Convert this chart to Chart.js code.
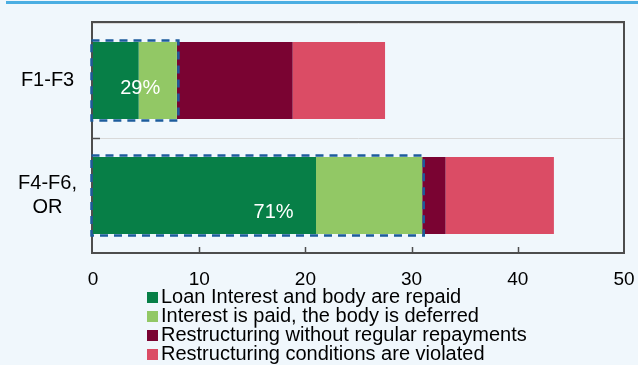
<!DOCTYPE html>
<html>
<head>
<meta charset="utf-8">
<script src="https://cdn.jsdelivr.net/npm/chart.js@4.4.1/dist/chart.umd.min.js"></script>
<style>
    html, body { margin: 0; padding: 0; background: #F0F7FC; }
    #wrap { position: relative; width: 638px; height: 365px; overflow: hidden; }
    #topline { position: absolute; left: 6px; top: 1px; width: 632px; height: 3px; background: #4BAEE2; }
    #chartBox { position: absolute; left: 0; top: 0; width: 638px; height: 365px; }
    #legend { position: absolute; left: 147px; top: 287px; font: 20px 'Liberation Sans', Arial, sans-serif; line-height: 19px; color: #000; }
    #legend div { white-space: nowrap; height: 19px; }
    #legend span.box { display: inline-block; width: 11px; height: 11px; margin-right: 3px; vertical-align: 0px; }
</style>
</head>
<body>
<div id="wrap">
    <div id="topline"></div>
    <div id="chartBox"><canvas id="myChart"></canvas></div>
    <div id="legend"></div>
</div>
<script>
const categories = [['F1-F3'], ['F4-F6,', 'OR']];
const seriesNames = [
    'Loan Interest and body are repaid',
    'Interest is paid, the body is deferred',
    'Restructuring without regular repayments',
    'Restructuring conditions are violated'
];
const repaid = [4.3, 21.0];
const deferred = [3.6, 10.0];
const noRepayments = [10.9, 2.2];
const violated = [8.7, 10.2];
const xTicks = [0, 10, 20, 30, 40, 50];

const colors = ['#077F47', '#92C865', '#7A0332', '#DB4C65'];
const seriesValues = [repaid, deferred, noRepayments, violated];

// legend as html
const legendEl = document.getElementById('legend');
seriesNames.forEach(function (name, i) {
    const row = document.createElement('div');
    const box = document.createElement('span');
    box.className = 'box';
    box.style.background = colors[i];
    row.appendChild(box);
    row.appendChild(document.createTextNode(name));
    legendEl.appendChild(row);
});

// where the share labels sit (x in data units, dy in px from bar centre)
const pctLabelPos = [{ x: 4.45, dy: 8 }, { x: 17.0, dy: 16.5 }];

const framePlugin = {
    id: 'frame',
    afterDraw: function (chart) {
        const ctx = chart.ctx;
        const a = chart.chartArea;
        const xs = chart.scales.x;
        const ys = chart.scales.y;
        ctx.save();
        ctx.strokeStyle = '#4D4D4D';
        ctx.lineWidth = 2;
        ctx.strokeRect(a.left - 1, a.top - 1, a.right - a.left + 1, a.bottom - a.top + 1);
        // inward ticks on x
        ctx.beginPath();
        xTicks.slice(1, -1).forEach(function (v) {
            const px = Math.round(xs.getPixelForValue(v)) + 0.5;
            ctx.moveTo(px, a.bottom);
            ctx.lineTo(px, a.bottom - 6);
        });
        // inward tick between categories
        const midY = Math.round((ys.getPixelForValue(0) + ys.getPixelForValue(1)) / 2) + 0.5;
        ctx.moveTo(a.left, midY);
        ctx.lineTo(a.left + 7, midY);
        ctx.lineWidth = 1.5;
        ctx.stroke();

        // dashed boxes round the first two series + share labels
        const meta = chart.getDatasetMeta(0);
        ctx.setLineDash([8, 6]);
        ctx.lineWidth = 2.5;
        ctx.strokeStyle = '#1D5C9C';
        meta.data.forEach(function (bar, i) {
            const x0 = xs.getPixelForValue(0) - 1.5;
            const x1 = xs.getPixelForValue(repaid[i] + deferred[i]) + 1.5;
            const y0 = bar.y - bar.height / 2 - 1.5;
            const y1 = bar.y + bar.height / 2 + 1.5;
            ctx.strokeRect(x0, y0, x1 - x0, y1 - y0);
        });
        ctx.setLineDash([]);
        ctx.fillStyle = '#FFFFFF';
        ctx.font = '20px "Liberation Sans", Arial, sans-serif';
        ctx.textAlign = 'center';
        ctx.textBaseline = 'middle';
        meta.data.forEach(function (bar, i) {
            const total = repaid[i] + deferred[i] + noRepayments[i] + violated[i];
            const share = Math.round((repaid[i] + deferred[i]) / total * 100);
            ctx.fillText(share + '%', xs.getPixelForValue(pctLabelPos[i].x), bar.y + pctLabelPos[i].dy);
        });
        ctx.restore();
    }
};

Chart.defaults.font.family = "'Liberation Sans', Arial, sans-serif";
Chart.defaults.color = '#000000';

const ctx = document.getElementById('myChart').getContext('2d');
const myChart = new Chart(ctx, {
    type: 'bar',
    data: {
        labels: categories,
        datasets: seriesNames.map(function (name, i) {
            return {
                label: name,
                data: seriesValues[i],
                backgroundColor: colors[i],
                borderWidth: 0,
                barPercentage: 0.67,
                categoryPercentage: 1
            };
        })
    },
    options: {
        indexAxis: 'y',
        responsive: true,
        maintainAspectRatio: false,
        animation: false,
        layout: {
            padding: { top: 23, right: 14, left: 0, bottom: 0 }
        },
        scales: {
            x: {
                type: 'linear',
                stacked: true,
                min: 0,
                max: 50,
                afterFit: function (scale) {
                    scale.height = 112;
                    scale.paddingLeft = 0;
                    scale.paddingRight = 0;
                },
                afterBuildTicks: function (scale) {
                    scale.ticks = xTicks.map(function (v) { return { value: v }; });
                },
                grid: { display: false },
                border: { display: false },
                ticks: {
                    padding: 7.5,
                    font: { size: 19 },
                    color: '#000000',
                    maxRotation: 0
                }
            },
            y: {
                stacked: true,
                afterFit: function (scale) {
                    scale.width = 93;
                    scale.paddingTop = 0;
                    scale.paddingBottom = 0;
                },
                grid: {
                    color: '#D9D9D9',
                    lineWidth: 1,
                    drawTicks: false
                },
                border: { display: false },
                ticks: {
                    crossAlign: 'center',
                    padding: 16,
                    font: { size: 20, lineHeight: 1.2 },
                    color: '#000000'
                }
            }
        },
        plugins: {
            legend: { display: false },
            title: { display: false },
            tooltip: { enabled: false }
        }
    },
    plugins: [framePlugin]
});
</script>
</body>
</html>
